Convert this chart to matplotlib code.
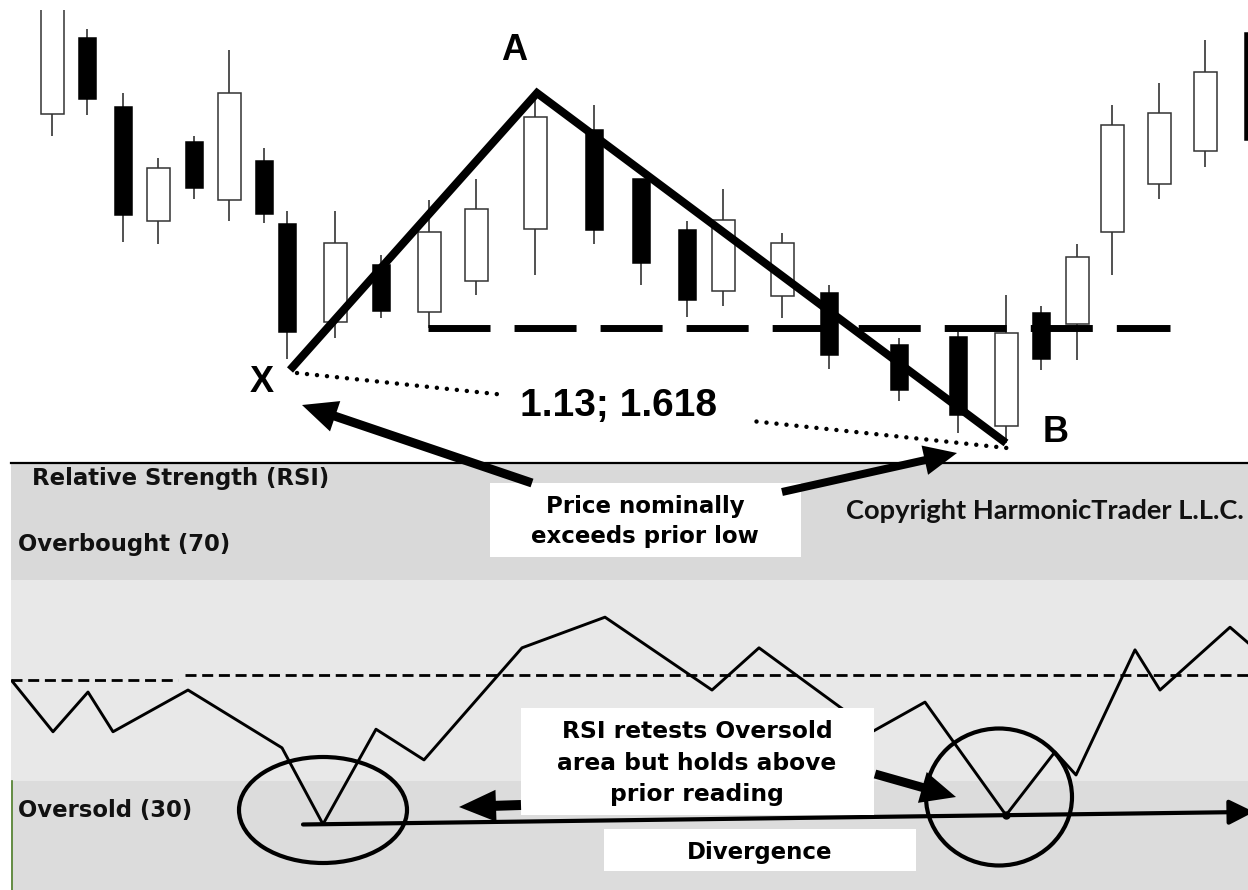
import matplotlib
matplotlib.use("Agg")
import matplotlib.pyplot as plt
from matplotlib.patches import Rectangle, Ellipse, FancyArrow

# ---------------- price bars (28 candles) ----------------
bar_x = [52, 87, 123, 158, 194, 229, 264, 287, 335, 381, 429, 476, 535, 594,
         641, 687, 723, 782, 829, 899, 958, 1006, 1041, 1077, 1112, 1159, 1205, 1253]
opens = [366, 442, 373, 259, 338, 280, 319, 256, 158, 215, 168, 199, 251, 350,
         301, 250, 189, 184, 187, 135, 143, 54, 167, 156, 248, 296, 329, 447]
highs = [485, 451, 387, 322, 344, 430, 332, 269, 269, 225, 280, 301, 380, 375,
         301, 259, 291, 247, 195, 142, 148, 185, 174, 236, 375, 397, 440, 447]
lows = [344, 365, 238, 236, 281, 259, 257, 121, 142, 162, 152, 185, 205, 236,
        195, 163, 174, 162, 111, 79, 47, 37, 110, 120, 205, 281, 313, 340]
closes = [485, 381, 265, 312, 292, 387, 266, 148, 237, 169, 248, 271, 363, 250,
          217, 180, 260, 237, 125, 90, 65, 147, 121, 223, 355, 367, 408, 340]

# X, A, B pivot points of the pattern
xab_labels = ["X", "A", "B"]
xab_x = [290, 537, 1006]
xab_p = [110, 387, 37]
# XB ratio line (dotted)
ratio_x = [297, 1007]
ratio_p = [107, 32]
ratio_text = "1.13; 1.618"
support_end_x = 1170

# ---------------- RSI ----------------
rsi_x = [12, 53, 88, 113, 188, 282, 323, 376, 424, 522, 605, 712, 759, 873,
         925, 1006, 1055, 1076, 1135, 1160, 1230, 1262]
rsi_v = [49.9, 39.8, 47.7, 39.8, 48.1, 36.6, 21.4, 40.3, 34.2, 56.5, 62.6, 48.1,
         56.5, 39.9, 45.7, 23.2, 35.8, 31.2, 56.1, 48.1, 60.6, 55.1]
overbought = 70
oversold = 30
mid_segments = [(11, 178, 50.0), (185, 1248, 51.0)]
low1_idx, low2_idx = 6, 15

W, H = 1248, 890
fig = plt.figure(figsize=(W / 100, H / 100), dpi=100)
fig.patch.set_facecolor("white")

# ---------------- price panel ----------------
ax = fig.add_axes([0, (H - 463) / H, 1, (463 - 10) / H])
ax.set_xlim(0, W)
ax.set_ylim(17, 470)
ax.axis("off")

ax.vlines(bar_x, lows, highs, color="#222222", lw=1.1, zorder=1)
for x, o, c in zip(bar_x, opens, closes):
    up = c >= o
    ax.bar(x, abs(c - o), width=23 if up else 17, bottom=min(o, c),
           color="white" if up else "black",
           edgecolor="#333333" if up else "black", linewidth=1.1, zorder=2)

# support (prior low) dashed line
ax.plot([bar_x[10] - 1, support_end_x], [lows[10], lows[10]], color="black",
        lw=5, dashes=(8.93, 3.46), solid_capstyle="butt", zorder=3)
# dotted XB line
ax.plot(ratio_x, ratio_p, color="black", lw=3.2, linestyle=(0, (0.01, 2.25)),
        dash_capstyle="round", zorder=3)
# XAB legs
ax.plot(xab_x, xab_p, color="black", lw=5.8, solid_capstyle="butt",
        solid_joinstyle="miter", zorder=4)

# ---------------- RSI panel ----------------
rx = fig.add_axes([11 / W, 0, (W - 11) / W, 427 / H])
rx.set_xlim(11, W)
rx.set_ylim(8.31, 93.28)
for s in ["left", "right", "bottom"]:
    rx.spines[s].set_visible(False)
rx.spines["top"].set_linewidth(1.6)
rx.set_xticks([])
rx.set_yticks([])
rx.axhspan(overbought, 100, color="#d9d9d9", lw=0, zorder=0)
rx.axhspan(oversold, overbought, color="#e8e8e8", lw=0, zorder=0)
rx.axhspan(0, oversold, color="#dcdcdc", lw=0, zorder=0)
for x0, x1, lvl in mid_segments:
    rx.plot([x0, x1], [lvl, lvl], color="black", lw=2, dashes=(3.96, 2.05), zorder=1)
rx.plot(rsi_x, rsi_v, color="black", lw=2.1, zorder=2)
rx.axvline(11.5, ymin=0, ymax=(oversold - 8.31) / (93.28 - 8.31), color="#4f7f2a", lw=1.2)

# divergence line through the two RSI lows
xa, ya = rsi_x[low1_idx], rsi_v[low1_idx]
xb, yb = rsi_x[low2_idx], rsi_v[low2_idx]
slope = (yb - ya) / (xb - xa)
x_start, x_end = 303, 1254
rx.annotate("", xy=(x_end, ya + slope * (x_end - xa)),
            xytext=(x_start, ya + slope * (x_start - xa)),
            arrowprops=dict(arrowstyle="-|>,head_length=0.6,head_width=0.3",
                            lw=3, color="black", mutation_scale=25,
                            shrinkA=0, shrinkB=0), zorder=3, annotation_clip=False)
rx.plot([xb], [yb], "o", color="black", ms=5, zorder=4)

# ---------------- overlay annotations (pixel coordinates) ----------------
ov = fig.add_axes([0, 0, 1, 1])
ov.set_xlim(0, W)
ov.set_ylim(H, 0)
ov.axis("off")
ov.patch.set_alpha(0)

top_font = "Liberation Sans"
low_font = "DejaVu Sans"

# ratio label on white patch
ov.add_patch(Rectangle((500, 383), 252, 45, facecolor="white", edgecolor="none", zorder=1))
ov.text(618, 406, ratio_text, fontsize=28, fontweight="bold", family=top_font,
        ha="center", va="center", zorder=2)
for lab, pos in zip(xab_labels, [(262, 382), (514, 50), (1056, 432)]):
    ov.text(pos[0], pos[1], lab, fontsize=26, fontweight="bold", family=top_font,
            ha="center", va="center", zorder=2)

# boxes
ov.add_patch(Rectangle((490, 483), 311, 74, facecolor="white", edgecolor="none", zorder=1))
ov.text(645, 507, "Price nominally", fontsize=16.5, fontweight="bold", family=low_font,
        ha="center", va="center", zorder=2)
ov.text(645, 537, "exceeds prior low", fontsize=16.5, fontweight="bold", family=low_font,
        ha="center", va="center", zorder=2)

ov.add_patch(Rectangle((521, 708), 353, 107, facecolor="white", edgecolor="none", zorder=1))
for yy, line in zip([732, 763, 795], ["RSI retests Oversold", "area but holds above",
                                      "prior reading"]):
    ov.text(697, yy, line, fontsize=16.8, fontweight="bold", family=low_font,
            ha="center", va="center", zorder=2)

ov.add_patch(Rectangle((604, 829), 312, 42, facecolor="white", edgecolor="none", zorder=1))
ov.text(760, 852, "Divergence", fontsize=16.5, fontweight="bold", family=low_font,
        ha="center", va="center", zorder=2)

# panel labels
ov.text(32, 479, "Relative Strength (RSI)", fontsize=16.4, fontweight="bold",
        family=low_font, ha="left", va="center", color="#111111", zorder=2)
ov.text(18, 545, "Overbought (70)", fontsize=16.4, fontweight="bold",
        family=low_font, ha="left", va="center", color="#111111", zorder=2)
ov.text(18, 810, "Oversold (30)", fontsize=16.4, fontweight="bold",
        family=low_font, ha="left", va="center", color="#111111", zorder=2)
ov.text(846, 511, "Copyright HarmonicTrader L.L.C.", fontsize=19.6, fontweight="bold",
        family="Lato", ha="left", va="center", color="#111111", zorder=2)

# circles around RSI lows
ov.add_patch(Ellipse((323, 810), 168, 106, fill=False, edgecolor="black", lw=3, zorder=3))
ov.add_patch(Ellipse((999, 797), 146, 137, fill=False, edgecolor="black", lw=3, zorder=3))

# arrows
arrows = [((532, 483), (302, 405), 9, 32, 35),
          ((782, 492), (957, 453), 8, 30, 33),
          ((521, 805), (459, 807), 10, 32, 37),
          ((875, 774), (956, 797), 9, 32, 35)]
for (x0, y0), (x1, y1), w, hw, hl in arrows:
    ov.add_patch(FancyArrow(x0, y0, x1 - x0, y1 - y0, width=w, head_width=hw,
                            head_length=hl, length_includes_head=True,
                            color="black", lw=0, zorder=4))

fig.savefig("out.png", dpi=100)
